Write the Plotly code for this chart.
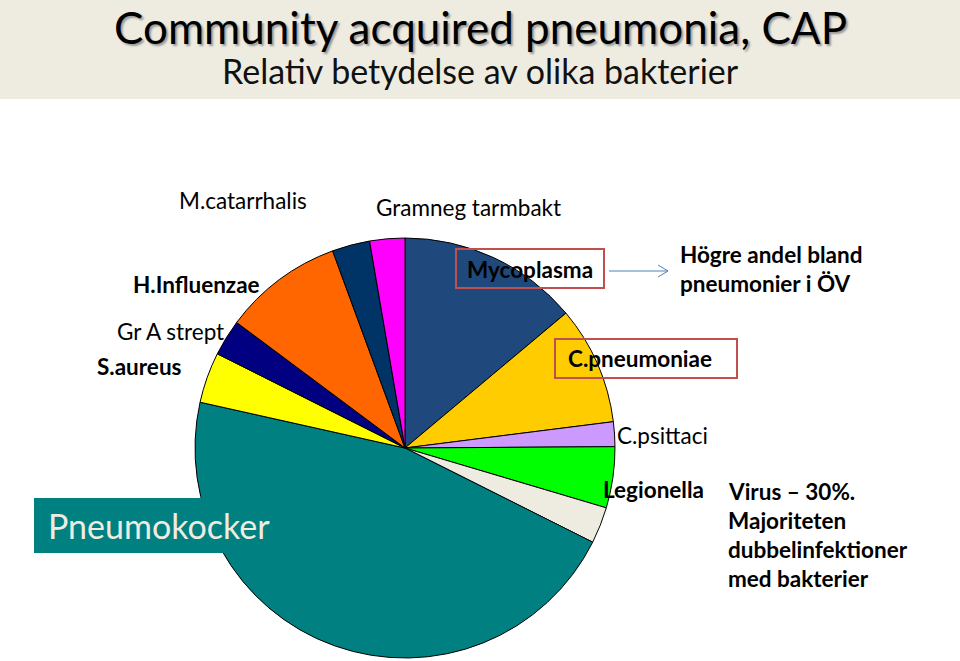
import plotly.graph_objects as go

W, H = 960, 661

# Data (share of slices, percent)
categories = ["Mycoplasma", "C.pneumoniae", "C.psittaci", "Legionella", "Övrigt",
              "Pneumokocker", "S.aureus", "Gr A strept", "H.Influenzae",
              "M.catarrhalis", "Gramneg tarmbakt"]
shares = [13.9, 9.1, 1.9, 4.7, 2.8, 46.1, 3.9, 2.8, 9.2, 2.9, 2.7]
colors = ["#1F497D", "#FFCC00", "#CC99FF", "#00FF00", "#EEECE1",
          "#008080", "#FFFF00", "#000080", "#FF6600", "#003366", "#FF00FF"]

title_text = "Community acquired pneumonia, CAP"
subtitle_text = "Relativ betydelse av olika bakterier"

FONT = "Lato"


def px(x):
    return x / W


def py(y):
    return 1 - y / H


cx, cy, r = 405, 448, 210

fig = go.Figure(go.Pie(
    labels=categories, values=shares, sort=False, direction="clockwise",
    rotation=0, textinfo="none", hoverinfo="label+percent",
    marker=dict(colors=colors, line=dict(color="black", width=1)),
    domain=dict(x=[px(cx - r), px(cx + r)], y=[py(cy + r), py(cy - r)]),
    showlegend=False,
))

shapes = [
    # header band
    dict(type="rect", xref="paper", yref="paper", x0=0, x1=1, y0=py(99), y1=1,
         fillcolor="#EEECE1", line=dict(width=0), layer="below"),
    # Pneumokocker box
    dict(type="rect", xref="paper", yref="paper", x0=px(34), x1=px(285),
         y0=py(553), y1=py(498), fillcolor="#008080", line=dict(width=0), layer="above"),
    # Mycoplasma box
    dict(type="rect", xref="paper", yref="paper", x0=px(456), x1=px(604),
         y0=py(288), y1=py(249), fillcolor="rgba(0,0,0,0)",
         line=dict(color="#C0504D", width=2), layer="above"),
    # C.pneumoniae box
    dict(type="rect", xref="paper", yref="paper", x0=px(555), x1=px(737),
         y0=py(378), y1=py(339), fillcolor="rgba(0,0,0,0)",
         line=dict(color="#C0504D", width=2), layer="above"),
    # arrow
    dict(type="path", xref="paper", yref="paper",
         path=f"M{px(609)},{py(271)} L{px(668)},{py(271)} M{px(658)},{py(265)} L{px(668)},{py(271)} L{px(658)},{py(277)}",
         line=dict(color="#4F81BD", width=1), layer="above"),
]

annotations = []


def label(text, x, y, size=22.5, bold=False, color="black", xanchor="center",
          yanchor="middle", shadow=None):
    t = f"<b>{text}</b>" if bold else text
    font = dict(family=FONT, size=size, color=color)
    if shadow:
        font["shadow"] = shadow
    annotations.append(dict(text=t, x=px(x), y=py(y), xref="paper", yref="paper",
                            showarrow=False, xanchor=xanchor, yanchor=yanchor,
                            borderpad=0, font=font))


label(title_text, 480, 0, size=44, color="black", yanchor="top",
      shadow="2px 2px 2px #9a9a9a")
label(subtitle_text, 480, 71, size=34, color="#111111")

label("M.catarrhalis", 243, 200)
label("Gramneg tarmbakt", 468, 208)
label("H.Influenzae", 196, 284, bold=True)
label("Gr A strept", 170, 331)
label("S.aureus", 139, 366, bold=True)
label("Mycoplasma", 530, 269, bold=True)
label("C.pneumoniae", 640, 358, bold=True)
label("Högre andel bland", 679, 254, bold=True, xanchor="left")
label("pneumonier i ÖV", 679, 283, bold=True, xanchor="left")
label("C.psittaci", 662, 435)
label("Legionella", 653, 489, bold=True)
label("Virus – 30%.", 727, 492, bold=True, xanchor="left")
label("Majoriteten", 727, 520, bold=True, xanchor="left")
label("dubbelinfektioner", 727, 549, bold=True, xanchor="left")
label("med bakterier", 727, 578, bold=True, xanchor="left")
label("Pneumokocker", 159, 525, size=34, color="#EEECE1")

fig.update_layout(
    width=W, height=H, margin=dict(l=0, r=0, t=0, b=0),
    paper_bgcolor="white", plot_bgcolor="white",
    shapes=shapes, annotations=annotations,
)

fig.write_html("out.html", config={"displayModeBar": False},
               post_script="document.body.style.margin='0';document.body.style.overflow='hidden';")
